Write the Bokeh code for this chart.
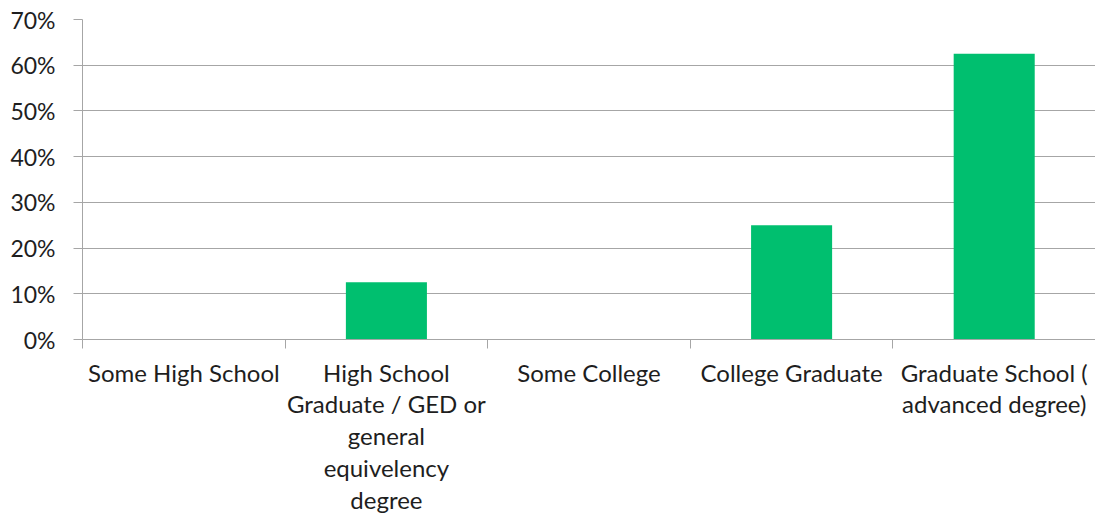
from bokeh.plotting import figure
from bokeh.models import (Range1d, LinearAxis, FixedTicker, NumeralTickFormatter,
                          ColumnDataSource)
from bokeh.embed import file_html
from bokeh.resources import INLINE

categories = ["Some High School",
              "High School Graduate / GED or general equivelency degree",
              "Some College",
              "College Graduate",
              "Graduate School ( advanced degree)"]
tick_labels = ["Some High School",
               "High School\nGraduate / GED or\ngeneral\nequivelency\ndegree",
               "Some College",
               "College Graduate",
               "Graduate School (\nadvanced degree)"]
values = [0.0, 0.125, 0.0, 0.25, 0.625]
y_ticks = [0.0, 0.1, 0.2, 0.3, 0.4, 0.5, 0.6, 0.7]

GREY = "#a6a6a6"
TEXT = "#1e1e1e"
FONT = "Lato"
BAR = "#00BF6F"

n = len(categories)
centers = [i + 0.5 for i in range(n)]
bounds = list(range(n + 1))

src = ColumnDataSource(dict(x=centers, cat=categories, val=values))

p = figure(x_range=Range1d(0, n), y_range=Range1d(0, 0.7),
           width=1095, height=521,
           output_backend="svg", toolbar_location=None,
           x_axis_location=None, y_axis_location="left",
           min_border_left=82, min_border_right=0,
           min_border_top=19, min_border_bottom=182)

p.vbar(x="x", top="val", width=0.4, source=src, color=BAR, line_color=None)

p.outline_line_color = None
p.xgrid.grid_line_color = None
p.ygrid.grid_line_color = GREY
p.ygrid.grid_line_width = 1

ya = p.yaxis[0]
ya.ticker = FixedTicker(ticks=y_ticks)
ya.formatter = NumeralTickFormatter(format="0%")
ya.axis_line_color = GREY
ya.major_tick_line_color = GREY
ya.major_tick_out = 9
ya.major_tick_in = 0
ya.minor_tick_line_color = None
ya.major_label_standoff = 18
ya.major_label_text_font = FONT
ya.major_label_text_font_size = "23px"
ya.major_label_text_color = TEXT

# category labels at bar centres, tick marks at category boundaries
ca = LinearAxis(ticker=FixedTicker(ticks=centers, minor_ticks=bounds))
ca.axis_line_color = GREY
ca.major_tick_line_color = None
ca.major_tick_out = 0
ca.major_tick_in = 0
ca.minor_tick_line_color = GREY
ca.minor_tick_out = 9
ca.minor_tick_in = 0
ca.major_label_standoff = 9
ca.major_label_text_font = FONT
ca.major_label_text_font_size = "24px"
ca.major_label_text_color = TEXT
ca.major_label_text_line_height = 1.1
ca.major_label_overrides = dict(zip(centers, tick_labels))
p.add_layout(ca, "below")

open("out.html", "w").write(file_html(p, INLINE))
